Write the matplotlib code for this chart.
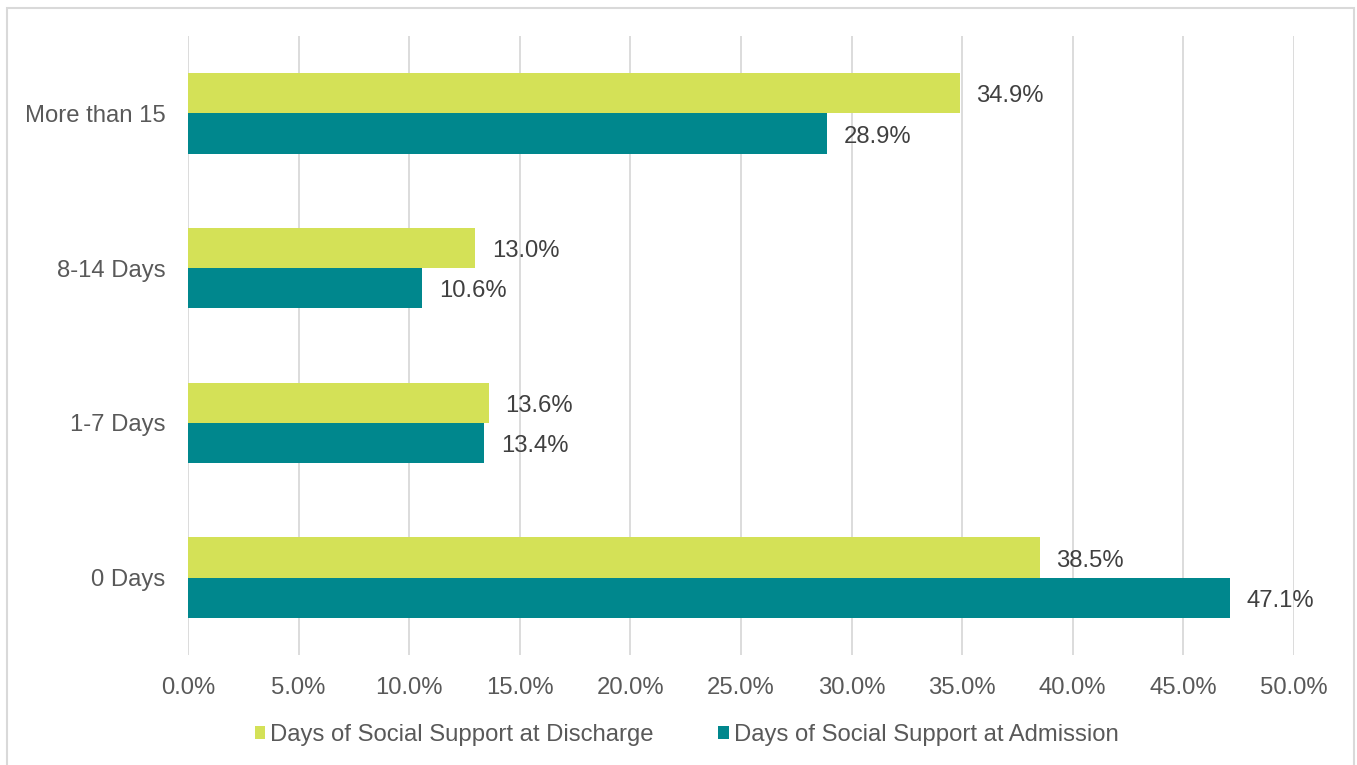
import matplotlib
matplotlib.use("Agg")
import matplotlib.pyplot as plt
from matplotlib.patches import Rectangle
import numpy as np

plt.rcParams['font.family'] = ['Liberation Sans', 'DejaVu Sans']

# Data
categories = ['0 Days', '1-7 Days', '8-14 Days', 'More than 15']
discharge = [38.5, 13.6, 13.0, 34.9]
admission = [47.1, 13.4, 10.6, 28.9]
series_names = ['Days of Social Support at Discharge',
                'Days of Social Support at Admission']
xticks = np.arange(0, 55, 5)

lime = '#d4e157'
teal = '#00878d'
txt = '#595959'
grid = '#d9d9d9'
fs = 17.2

fig = plt.figure(figsize=(13.57, 7.65), dpi=100)
ax = fig.add_axes([0.1385, 0.1438, 0.815, 0.8091])

y = np.arange(len(categories))
h = 0.26
b1 = ax.barh(y + h / 2, discharge, height=h, color=lime, label=series_names[0], zorder=3)
b2 = ax.barh(y - h / 2, admission, height=h, color=teal, label=series_names[1], zorder=3)

# value labels, sitting a touch below the bar centre like the original
for bars, vals in ((b1, discharge), (b2, admission)):
    for bar, v in zip(bars, vals):
        ax.text(v + 0.75, bar.get_y() + bar.get_height() / 2 - 0.02, '{:.1f}%'.format(v),
                va='center', ha='left', fontsize=fs, color='#404040')

ax.set_xlim(0, 50)
ax.set_ylim(-0.5, 3.5)
ax.set_xticks(xticks)
ax.set_xticklabels(['{:.1f}%'.format(t) for t in xticks])
ax.set_yticks(y)
ax.set_yticklabels(categories)
ax.tick_params(axis='both', length=0, labelsize=fs, colors=txt)
ax.tick_params(axis='x', pad=16)
ax.tick_params(axis='y', pad=16)
ax.grid(axis='x', color=grid, linewidth=1.3, zorder=0)
for s in ax.spines.values():
    s.set_visible(False)

leg = fig.legend(loc='center', bbox_to_anchor=(0.506, 0.039), ncol=2, frameon=False,
                 fontsize=fs, handlelength=0.45, handleheight=0.45, handletextpad=0.2,
                 columnspacing=2.7)
for t in leg.get_texts():
    t.set_color(txt)

fig.patches.append(Rectangle((0.005, -0.01), 0.993, 1.0, transform=fig.transFigure,
                             fill=False, edgecolor=grid, linewidth=1.5))

fig.savefig('out.png', dpi=100)
